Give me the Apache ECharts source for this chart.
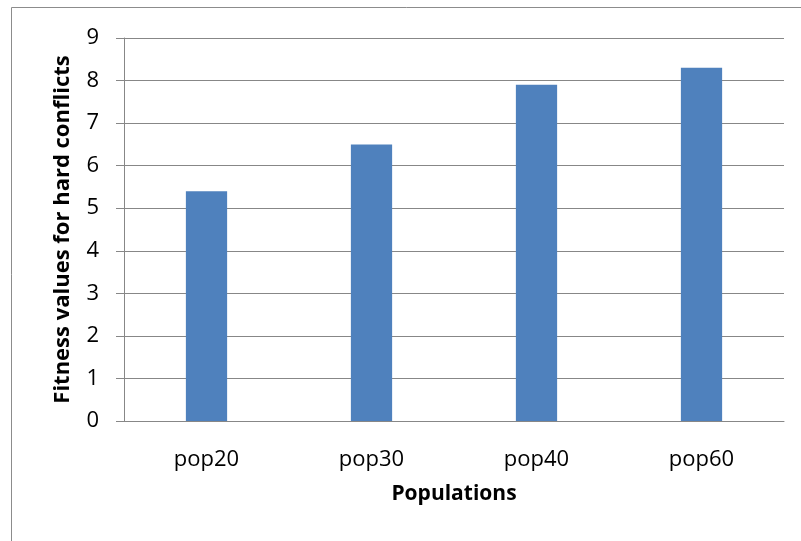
<!DOCTYPE html>
<html><head><meta charset="utf-8">
<script src="https://cdn.jsdelivr.net/npm/echarts@6/dist/echarts.min.js"></script>
<style>html,body{margin:0;padding:0;background:#fff}#c{width:801px;height:541px}</style>
</head><body><div id="c"></div>
<script>
const categories = ['pop20', 'pop30', 'pop40', 'pop60'];
const values = [5.4, 6.5, 7.9, 8.3];
const yTicks = [0, 1, 2, 3, 4, 5, 6, 7, 8, 9];
const font = 'Open Sans';
const chart = echarts.init(document.getElementById('c'), null, {renderer: 'canvas'});
chart.setOption({
  animation: false,
  backgroundColor: '#fff',
  graphic: [{
    type: 'rect', shape: {x: 11.5, y: 7.5, width: 820, height: 600},
    style: {fill: 'none', stroke: '#8c8c8c', lineWidth: 1}, silent: true
  }],
  grid: {left: 124, right: 17, top: 38, bottom: 120},
  xAxis: {
    type: 'category', data: categories,
    axisLine: {lineStyle: {color: '#878787', width: 1}},
    axisTick: {show: false},
    axisLabel: {color: '#000', fontFamily: font, fontSize: 22, margin: 28},
    name: 'Populations', nameLocation: 'middle', nameGap: 63,
    nameTextStyle: {color: '#000', fontFamily: font, fontSize: 21, fontWeight: 'bold'}
  },
  yAxis: {
    type: 'value', min: 0, max: 9, interval: 1,
    axisLine: {show: true, lineStyle: {color: '#878787', width: 1}},
    axisTick: {show: true, length: 8, lineStyle: {color: '#878787'}},
    splitLine: {lineStyle: {color: '#878787', width: 1}},
    axisLabel: {color: '#000', fontFamily: font, fontSize: 22, margin: 25,
      formatter: v => yTicks.includes(v) ? String(v) : ''},
    name: 'Fitness values for hard conflicts', nameLocation: 'middle', nameGap: 50,
    nameTextStyle: {color: '#000', fontFamily: font, fontSize: 22, fontWeight: 'bold'}
  },
  series: [{
    type: 'bar', data: values, barWidth: '25%',
    itemStyle: {color: '#4F81BD'}
  }]
});
</script></body></html>
